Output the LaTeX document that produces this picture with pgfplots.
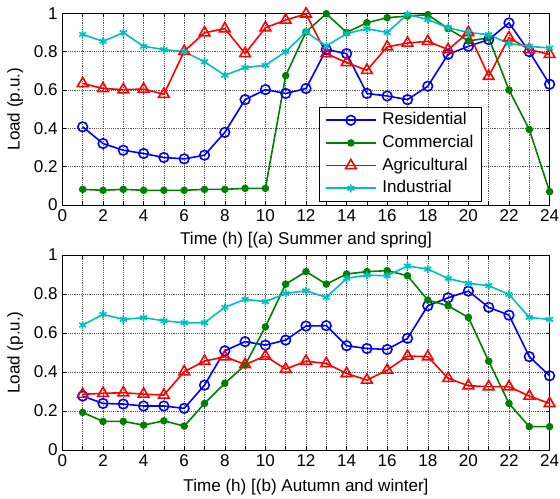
\documentclass[border=0pt]{standalone}
\usepackage{fontspec}
\setmainfont{Liberation Sans}
\usepackage{pgfplots}
\usepackage{pgfplotstable}
\pgfplotsset{compat=1.18}
\usetikzlibrary{calc}
\definecolor{mblue}{rgb}{0,0,1}
\definecolor{mgreen}{rgb}{0,0.5,0}
\definecolor{mred}{rgb}{1,0,0}
\definecolor{mcyan}{rgb}{0,0.75,0.75}

\pgfplotstableread{
h res com agr ind
1 0.408 0.082 0.634 0.890
2 0.321 0.077 0.608 0.854
3 0.286 0.082 0.602 0.899
4 0.269 0.077 0.605 0.828
5 0.248 0.077 0.578 0.811
6 0.241 0.077 0.802 0.800
7 0.260 0.082 0.899 0.747
8 0.379 0.082 0.920 0.677
9 0.550 0.087 0.790 0.717
10 0.602 0.087 0.925 0.729
11 0.582 0.675 0.965 0.800
12 0.608 0.903 0.997 0.903
13 0.811 0.998 0.790 0.830
14 0.790 0.900 0.743 0.894
15 0.582 0.951 0.703 0.920
16 0.569 0.977 0.825 0.900
17 0.550 0.986 0.845 0.995
18 0.620 0.993 0.854 0.967
19 0.786 0.920 0.811 0.925
20 0.828 0.856 0.900 0.900
21 0.863 0.872 0.672 0.889
22 0.950 0.600 0.873 0.842
23 0.800 0.394 0.811 0.828
24 0.630 0.070 0.786 0.819
}\summer

\pgfplotstableread{
h res com agr ind
1 0.277 0.193 0.286 0.641
2 0.239 0.147 0.291 0.696
3 0.236 0.147 0.294 0.670
4 0.226 0.128 0.287 0.679
5 0.226 0.150 0.282 0.663
6 0.214 0.123 0.402 0.653
7 0.333 0.239 0.456 0.653
8 0.509 0.342 0.479 0.732
9 0.556 0.436 0.439 0.773
10 0.538 0.632 0.482 0.761
11 0.564 0.851 0.415 0.803
12 0.636 0.915 0.456 0.817
13 0.638 0.851 0.444 0.783
14 0.535 0.903 0.393 0.880
15 0.521 0.915 0.359 0.897
16 0.516 0.920 0.410 0.894
17 0.573 0.894 0.482 0.944
18 0.740 0.769 0.479 0.928
19 0.781 0.740 0.368 0.880
20 0.815 0.680 0.330 0.855
21 0.732 0.456 0.325 0.843
22 0.692 0.239 0.325 0.798
23 0.479 0.120 0.277 0.680
24 0.381 0.120 0.239 0.670
}\winter

\pgfplotsset{
  myaxis/.style={
    scale only axis, width=365.4pt,
    xmin=0, xmax=24, ymin=0, ymax=1,
    xtick={0,2,...,24}, minor xtick={1,3,...,23},
    ytick={0,0.2,0.4,0.6,0.8,1},
    grid=both,
    major grid style={black!65, densely dotted, line width=0.45pt},
    minor grid style={black!65, densely dotted, line width=0.45pt},
    tick align=inside, tick pos=both,
    major tick length=3pt, minor tick length=3pt,
    every tick/.style={black, line width=0.4pt},
    axis line style={black, line width=0.6pt},
    font=\fontsize{12.8}{15}\selectfont,
    /pgf/number format/assume math mode=true,
    ylabel={Load (p.u.)},
    ylabel style={at={(axis description cs:-0.097,0.5)}, anchor=center},
    xlabel style={anchor=center},
    clip=false,
  },
  res/.style={color=mblue, line width=1.2pt, mark=o, mark size=3.6pt, mark options={solid, line width=1.2pt}},
  com/.style={color=mgreen, line width=1.2pt, mark=*, mark size=2.2pt, mark options={solid}},
  agr/.style={color=mred, line width=1.2pt, mark=triangle, mark size=4.6pt, mark options={solid, line width=1.2pt}},
  ind/.style={color=mcyan, line width=1.2pt, mark=asterisk, mark size=3pt, mark options={solid, line width=1.2pt}},
}

\begin{document}
\begin{tikzpicture}
\begin{axis}[myaxis, name=top, height=143.8pt,
  at={(0,0)}, anchor=north west,
  xlabel={Time (h) [(a) Summer and spring]},
  xlabel style={at={(axis description cs:0.5,-0.1825)}},
  legend style={at={(axis cs:12.64,0.016)}, anchor=south west, draw=black, line width=0.6pt,
    fill=white, font=\fontsize{12.8}{15}\selectfont, row sep=1pt,
    inner xsep=4pt, inner ysep=2pt,
    nodes={text height=9.5pt, text depth=2.5pt, inner ysep=2pt},
    /tikz/every odd column/.append style={column sep=2pt}},
  legend cell align=left,
  legend image code/.code={\draw[mark repeat=2, mark phase=2, #1] plot coordinates {(0pt,0pt) (19pt,0pt) (38pt,0pt)};},
]
\addplot[res] table[x=h, y=res] {\summer};
\addplot[com] table[x=h, y=com] {\summer};
\addplot[agr] table[x=h, y=agr] {\summer};
\addplot[ind] table[x=h, y=ind] {\summer};
\legend{Residential, Commercial, Agricultural, Industrial}
\end{axis}
\begin{axis}[myaxis, name=bot, height=146.25pt,
  at={($(top.south west)+(0,-37.5pt)$)}, anchor=north west,
  xlabel={Time (h) [(b) Autumn and winter]},
  xlabel style={at={(axis description cs:0.5,-0.19)}},
]
\addplot[res] table[x=h, y=res] {\winter};
\addplot[com] table[x=h, y=com] {\winter};
\addplot[agr] table[x=h, y=agr] {\winter};
\addplot[ind] table[x=h, y=ind] {\winter};
\end{axis}
\pgfresetboundingbox
\path[use as bounding box] ([xshift=-46.8pt,yshift=10pt]top.north west) rectangle ([xshift=7.8pt,yshift=-36pt]bot.south east);
\end{tikzpicture}
\end{document}
